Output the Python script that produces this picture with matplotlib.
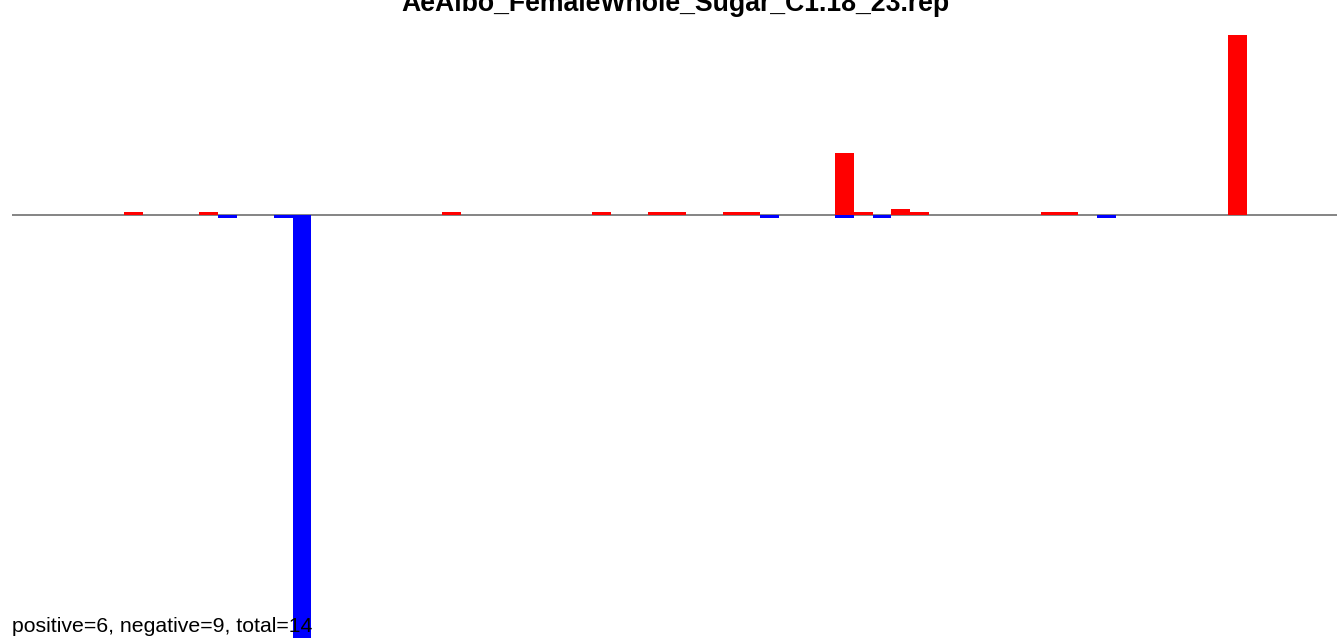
import matplotlib.pyplot as plt

title = 'AeAlbo_FemaleWhole_Sugar_C1.18_23.rep'
summary = 'positive=6, negative=9, total=14'

# slot positions and bar heights
pos_idx = [6, 10, 23, 31, 34, 35, 38, 39, 44, 45, 47, 48, 55, 56, 65]
pos_val = [1, 1, 1, 1, 1, 1, 1, 1, 20.7, 1, 2, 1, 1, 1, 60]
neg_idx = [11, 14, 15, 40, 44, 46, 58]
neg_val = [-1, -1, -150, -1, -1, -1, -1]

plt.rcParams['font.family'] = ['Liberation Sans', 'DejaVu Sans']

fig = plt.figure(figsize=(13.37, 6.38), dpi=100)
ax = fig.add_axes([12 / 1337, 0, 71 * 18.71 / 1337, 1])

ax.axhline(0, color='#707070', linewidth=1.2, zorder=1)
ax.bar(pos_idx, pos_val, width=1, align='edge', color='#ff0000', zorder=2)
ax.bar(neg_idx, neg_val, width=1, align='edge', color='#0000ff', zorder=2)

ax.set_xlim(0, 71)
ax.set_ylim(-(638 - 215) / 3, 215 / 3)
ax.axis('off')

# title sits partly above the top edge, as in the reference
fig.text(675 / 1337, 1 - 11 / 638, title, ha='center', va='baseline',
         fontsize=19.2, fontweight='bold')
fig.text(12 / 1337, 6 / 638, summary, ha='left', va='baseline',
         fontsize=15.3, zorder=5)

plt.savefig('out.png', dpi=100)
